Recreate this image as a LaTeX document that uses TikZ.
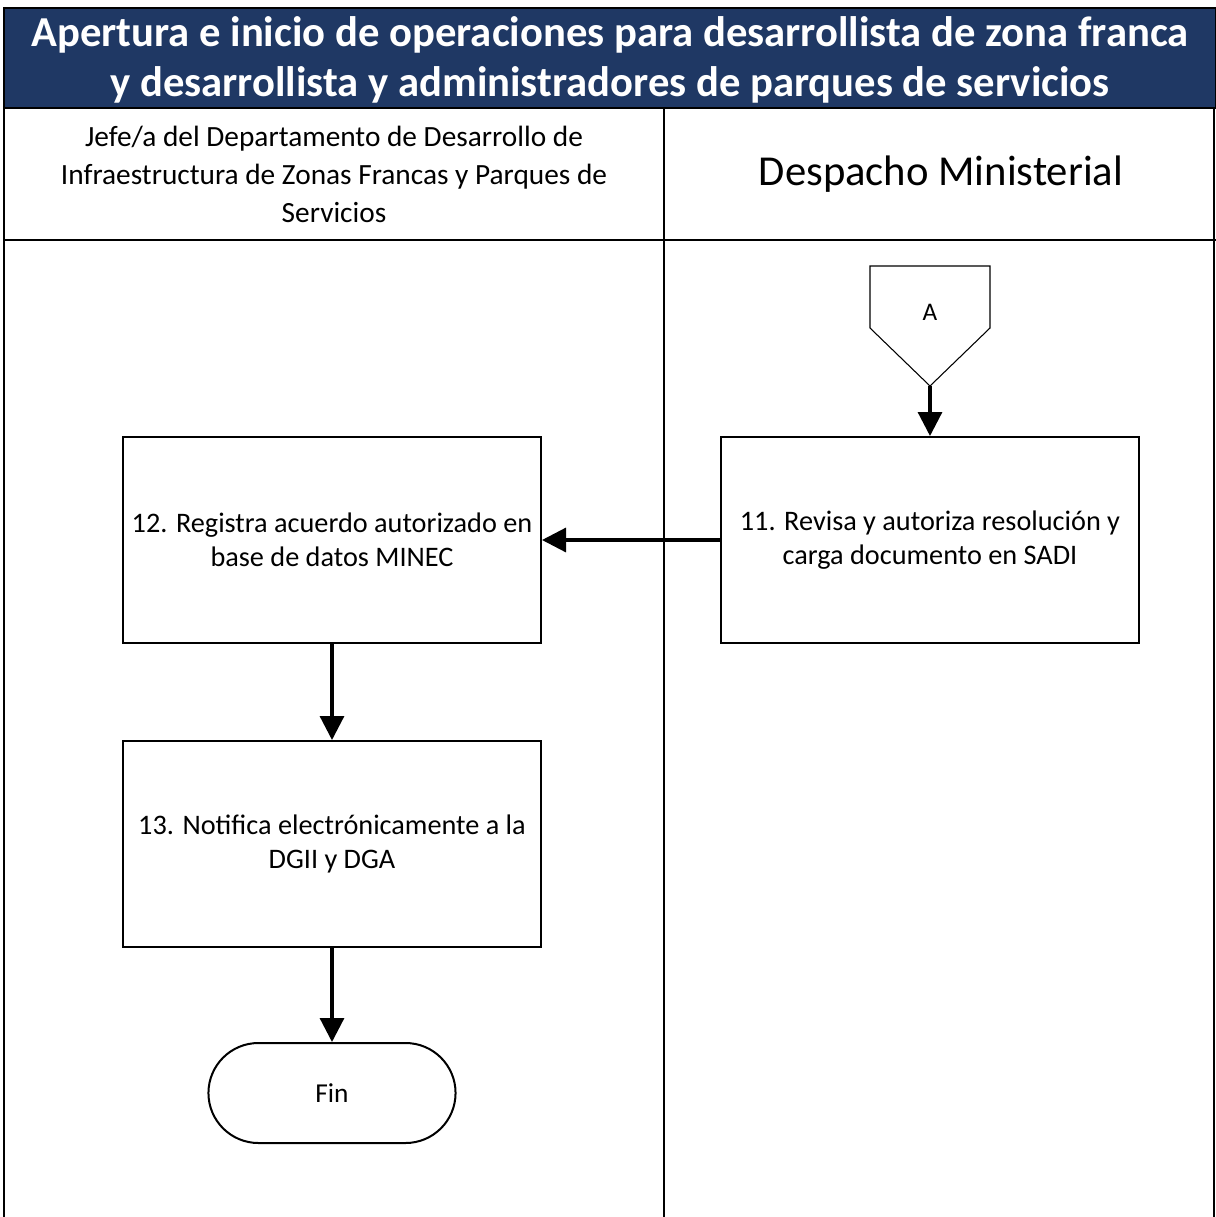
\documentclass[tikz,border=0pt]{standalone}
\usepackage{fontspec}
\setmainfont{Carlito}
\usetikzlibrary{arrows.meta,shapes.misc}
\definecolor{titlenavy}{RGB}{31,56,100}
\tikzset{
  proc/.style={draw,line width=1.5pt,rectangle,minimum width=313.5pt,minimum height=154.5pt,
    align=center,font=\fontsize{21.2}{25.5}\selectfont},
  flow/.style={line width=2.4pt,-{Triangle[length=18pt,width=18pt]}},
  lane/.style={line width=1.5pt}
}
\begin{document}
\begin{tikzpicture}[x=0.75pt,y=-0.75pt]
			\useasboundingbox (0,0) rectangle (1216,1217);
			% titulo
			\draw[fill=titlenavy,line width=1.5pt] (4,8) rectangle (1216,108);
			\node[text=white,align=center,font=\fontsize{32}{37.5}\selectfont\bfseries] (title) at (610,60)
				{Apertura e inicio de operaciones para desarrollista de zona franca\\y desarrollista y administradores de parques de servicios};
			% carriles
			\draw[lane] (4,108) -- (4,1217);
			\draw[lane] (1214,108) -- (1214,1217);
			\draw[lane] (664,108) -- (664,1217);
			\draw[lane] (4,240) -- (1216,240);
			\node[align=center,font=\fontsize{22}{28.5}\selectfont] (jefe) at (334,174)
				{Jefe/a del Departamento de Desarrollo de\\Infraestructura de Zonas Francas y Parques de\\Servicios};
			\node[font=\fontsize{32}{36}\selectfont] (despacho) at (941,174) {Despacho Ministerial};
			% conector A
			\draw[line width=0.8pt] (870,266) -- (990,266) -- (990,328) -- (930,386) -- (870,328) -- cycle;
			\node[font=\fontsize{19}{23}\selectfont] (conA) at (930,312) {A};
			\coordinate (Atip) at (930,386);
			% pasos
			\node[proc] (p11) at (930,540) {11. Revisa y autoriza resolución y\\carga documento en SADI};
			\node[proc] (p12) at (332,540) {12. Registra acuerdo autorizado en\\base de datos MINEC};
			\node[proc] (p13) at (332,844) {13. Notifica electrónicamente a la\\DGII y DGA};
			\node[draw,line width=1.5pt,rounded rectangle,minimum width=192pt,minimum height=75pt,
				font=\fontsize{20.5}{24}\selectfont] (fin) at (332,1093) {Fin};
			\draw[flow] (Atip) -- (p11.north);
			\draw[flow] (p11.west) -- (p12.east);
			\draw[flow] (p12.south) -- (p13.north);
			\draw[flow] (p13.south) -- (fin.north);
		\end{tikzpicture}
\end{document}
